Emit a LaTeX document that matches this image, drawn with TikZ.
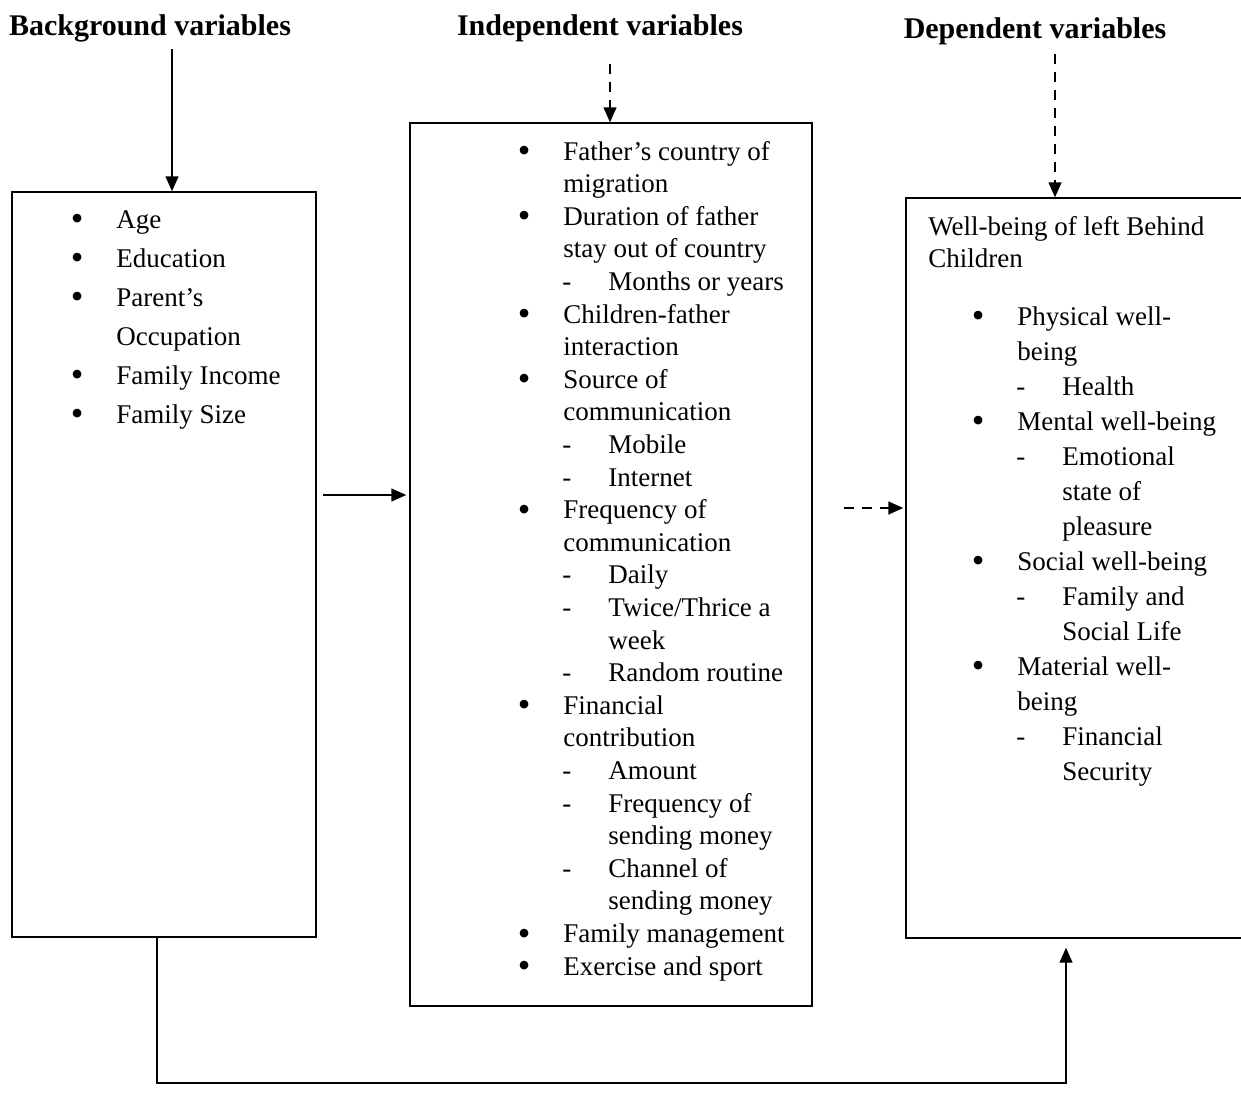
\documentclass[tikz,border=0pt]{standalone}
\usepackage{fontspec}
\setmainfont{Liberation Serif}
\usetikzlibrary{arrows.meta,fit}
\newcommand{\itembul}{\llap{\smash{\raisebox{-0.1em}{\fontsize{18}{18}\selectfont\textbullet}}\hspace{16.5pt}}}
\newcommand{\itemcont}{}
\newcommand{\itemdash}{\hspace*{22.5pt}\llap{-\hspace{18.5pt}}}
\newcommand{\itemsub}{\hspace*{22.5pt}}
\tikzset{
  box/.style     = {draw, line width=0.7pt, inner sep=0pt},
  heading/.style = {anchor=base, font=\fontsize{15}{18}\selectfont\bfseries},
  entry/.style   = {anchor=base west, inner sep=0pt, font=\fontsize{13.5}{16}\selectfont},
  link/.style    = {line width=0.7pt, -{Triangle[width=6.5pt,length=7.5pt]}},
  broken/.style  = {dash pattern=on 5pt off 4pt}
}

\begin{document}
\begin{tikzpicture}[x=0.5pt,y=-0.5pt]
  \useasboundingbox (0,0) rectangle (1241,1092);

  % headings
  \node[heading] (hbg)  at (150,35)  {Background variables};
  \node[heading] (hind) at (600,35)  {Independent variables};
  \node[heading] (hdep) at (1035,38) {Dependent variables};

  % boxes
  \node[box, fit={(12,192) (316,937)}]   (bg)  {};
  \node[box, fit={(410,123) (812,1006)}] (ind) {};
  \node[box, fit={(906,198) (1260,938)}] (dep) {};

  % background variables
  \foreach \t [count=\i] in {\itembul Age, \itembul Education, \itembul Parent's,
      \itemcont Occupation, \itembul Family Income, \itembul Family Size}
    \node[entry] (bg\i) at (116,{228+39*(\i-1)}) {\t};

  % independent variables
  \foreach \t [count=\i] in {\itembul Father's country of, \itemcont migration,
      \itembul Duration of father, \itemcont stay out of country,
      \itemdash Months or years, \itembul Children-father, \itemcont interaction,
      \itembul Source of, \itemcont communication, \itemdash Mobile,
      \itemdash Internet, \itembul Frequency of, \itemcont communication,
      \itemdash Daily, \itemdash Twice/Thrice a, \itemsub week,
      \itemdash Random routine, \itembul Financial, \itemcont contribution,
      \itemdash Amount, \itemdash Frequency of, \itemsub sending money,
      \itemdash Channel of, \itemsub sending money,
      \itembul Family management, \itembul Exercise and sport}
    \node[entry] (ind\i) at (563,{160+32.6*(\i-1)}) {\t};

  % dependent variables
  \node[entry] (deptop1) at (928,235) {Well-being of left Behind};
  \node[entry] (deptop2) at (928,267) {Children};
  \foreach \t [count=\i] in {\itembul Physical well-, \itemcont being,
      \itemdash Health, \itembul Mental well-being, \itemdash Emotional,
      \itemsub state of, \itemsub pleasure, \itembul Social well-being,
      \itemdash Family and, \itemsub Social Life, \itembul Material well-,
      \itemcont being, \itemdash Financial, \itemsub Security}
    \node[entry] (dep\i) at (1017,{325+35*(\i-1)}) {\t};

  % arrows
  \coordinate (bgx)  at (172,0);
  \coordinate (indx) at (610,0);
  \coordinate (depx) at (1055,0);
  \draw[link] (hbg.south -| bgx) -- (bgx |- bg.north);
  \draw[link, broken, shorten <=8pt] (hind.south -| indx) -- (indx |- ind.north);
  \draw[link, broken, shorten <=1.5pt] (hdep.south -| depx) -- (depx |- dep.north);

  \coordinate (rowa) at (0,495);
  \coordinate (rowb) at (0,508);
  \draw[link, shorten <=3pt, shorten >=1.5pt] (bg.east |- rowa) -- (ind.west |- rowa);
  \draw[link, broken, shorten <=15.5pt, shorten >=1pt] (ind.east |- rowb) -- (dep.west |- rowb);

  \coordinate (loopa) at (157,1083);
  \coordinate (loopb) at (1066,1083);
  \draw[link, shorten >=4.5pt] (loopa |- bg.south) -- (loopa) -- (loopb) -- (loopb |- dep.south);
\end{tikzpicture}
\end{document}
